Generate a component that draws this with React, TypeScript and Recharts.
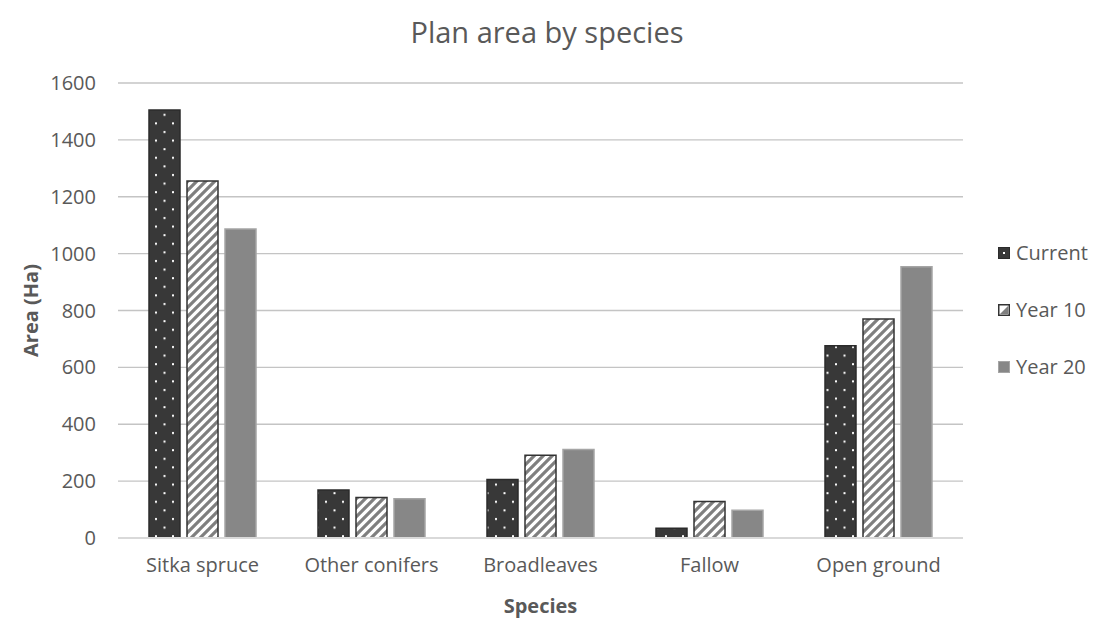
import React from "react";
import { BarChart, Bar, XAxis, YAxis, CartesianGrid, Label } from "recharts";

const categories = ["Sitka spruce", "Other conifers", "Broadleaves", "Fallow", "Open ground"];
const currentValues = [1505, 169, 206, 34, 676];
const year10Values = [1255, 142, 291, 128, 770];
const year20Values = [1087, 138, 311, 98, 954];
const yTicks = [0, 200, 400, 600, 800, 1000, 1200, 1400, 1600];

const series = [
  { key: "current", name: "Current", fill: "url(#dots)", stroke: "#2b2b2b" },
  { key: "year10", name: "Year 10", fill: "url(#stripes)", stroke: "#333333" },
  { key: "year20", name: "Year 20", fill: "#878787", stroke: "#a5a5a5" },
];

const data = categories.map((c, i) => ({
  name: c,
  current: currentValues[i],
  year10: year10Values[i],
  year20: year20Values[i],
}));

const FONT = "'Open Sans', 'Liberation Sans', sans-serif";
const TXT = "#595959";

function LegendSwatch({ k }: { k: string }) {
  if (k === "current") {
    return (
      <svg width={12} height={12} style={{ display: "block" }}>
        <rect x={0.5} y={0.5} width={11} height={11} fill="#383838" stroke="#2b2b2b" />
        <rect x={5} y={5} width={2} height={2} fill="#fff" />
      </svg>
    );
  }
  if (k === "year10") {
    return (
      <svg width={12} height={12} style={{ display: "block" }}>
        <rect x={0.75} y={0.75} width={10.5} height={10.5} fill="#fff" stroke="#333" strokeWidth={1.5} />
        <path d="M2,10 L10,2 L10,10 Z" fill="#7f7f7f" />
      </svg>
    );
  }
  return (
    <svg width={12} height={12} style={{ display: "block" }}>
      <rect x={0.5} y={0.5} width={11} height={11} fill="#878787" stroke="#a5a5a5" />
    </svg>
  );
}

export default function App() {
  return (
    <div style={{ position: "absolute", left: 0, top: 0, width: 1094, height: 620, background: "#fff", fontFamily: FONT }}>
      <div
        style={{
          position: "absolute",
          top: 12,
          left: 0,
          width: 1094,
          textAlign: "center",
          fontSize: 29,
          color: TXT,
          lineHeight: "40px",
        }}
      >
        Plan area by species
      </div>
      <BarChart
        width={1094}
        height={620}
        data={data}
        margin={{ top: 83, right: 131, bottom: 0, left: 0 }}
        barSize={31}
        barGap={7}
      >
        <defs>
          <pattern id="dots" patternUnits="userSpaceOnUse" width={17} height={17.2}>
            <rect x={0} y={0} width={17} height={17.2} fill="#383838" />
            <rect x={2} y={2} width={2} height={2} fill="#ffffff" />
            <rect x={10.5} y={10.6} width={2} height={2} fill="#ffffff" />
          </pattern>
          <pattern id="stripes" patternUnits="userSpaceOnUse" width={9} height={9}>
            <rect x={0} y={0} width={9} height={9} fill="#ffffff" />
            <path
              d="M-1,10 L10,-1 M-3.25,3.25 L3.25,-3.25 M5.75,12.25 L12.25,5.75"
              stroke="#7f7f7f"
              strokeWidth={3.2}
            />
          </pattern>
        </defs>
        <CartesianGrid vertical={false} stroke="#c4c4c4" strokeWidth={1.3} />
        <XAxis
          dataKey="name"
          tickLine={false}
          axisLine={{ stroke: "#d9d9d9", strokeWidth: 2 }}
          tick={{ fill: TXT, fontSize: 20, fontFamily: FONT }}
          tickMargin={14}
          height={82}
        >
          <Label
            value="Species"
            position="insideBottom"
            offset={7}
            style={{ fill: TXT, fontSize: 20, fontWeight: 700, fontFamily: FONT }}
          />
        </XAxis>
        <YAxis
          width={118}
          domain={[0, 1600]}
          ticks={yTicks}
          tickLine={false}
          axisLine={false}
          tick={{ fill: TXT, fontSize: 20, fontFamily: FONT }}
          tickMargin={16}
        >
          <Label
            content={(props: any) => {
              const vb = props.viewBox || { x: 0, y: 83, width: 118, height: 455 };
              const cx = 30;
              const cy = vb.y + vb.height / 2;
              return (
                <text
                  x={cx}
                  y={cy}
                  transform={`rotate(-90, ${cx}, ${cy})`}
                  textAnchor="middle"
                  dominantBaseline="central"
                  fill={TXT}
                  fontSize={20}
                  fontWeight={700}
                  fontFamily={FONT}
                >
                  Area (Ha)
                </text>
              );
            }}
          />
        </YAxis>
        {series.map((s) => (
          <Bar
            key={s.key}
            dataKey={s.key}
            name={s.name}
            fill={s.fill}
            stroke={s.stroke}
            strokeWidth={1.5}
            isAnimationActive={false}
          />
        ))}
      </BarChart>
      <div style={{ position: "absolute", left: 998, top: 224.5 }}>
        {series.map((s) => (
          <div key={s.key} style={{ display: "flex", alignItems: "center", height: 57 }}>
            <div style={{ width: 12, height: 12, marginRight: 6 }}>
              <LegendSwatch k={s.key} />
            </div>
            <span style={{ fontSize: 20, color: TXT, lineHeight: "28px" }}>{s.name}</span>
          </div>
        ))}
      </div>
    </div>
  );
}
